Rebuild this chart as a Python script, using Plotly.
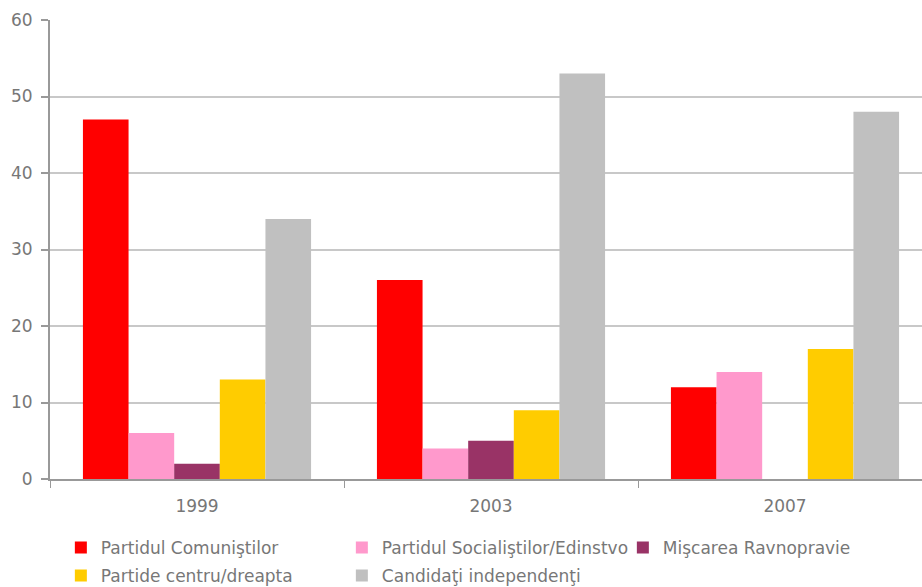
import plotly.graph_objects as go

years = ["1999", "2003", "2007"]
series_names = [
    "Partidul Comuniştilor",
    "Partidul Socialiştilor/Edinstvo",
    "Mişcarea Ravnopravie",
    "Partide centru/dreapta",
    "Candidaţi independenţi",
]
pc = [47, 26, 12]
ps = [6, 4, 14]
mr = [2, 5, 0]
pcd = [13, 9, 17]
ci = [34, 53, 48]
values = [pc, ps, mr, pcd, ci]
colors = ["#FF0000", "#FF99CC", "#993366", "#FFCC00", "#C0C0C0"]
legend_rows = ["legend", "legend", "legend", "legend2", "legend2"]

fig = go.Figure()
for name, vals, col, lg in zip(series_names, values, colors, legend_rows):
    fig.add_trace(go.Bar(
        x=years, y=vals, name=name, legend=lg,
        marker=dict(color=col, line=dict(width=0)),
    ))

font_col = "#777777"
legend_common = dict(
    orientation="h",
    xref="container", yref="container",
    xanchor="left", yanchor="middle",
    entrywidth=236, entrywidthmode="pixels",
    font=dict(size=17, color=font_col),
    traceorder="normal",
    itemwidth=30,
    bgcolor="rgba(0,0,0,0)",
)
fig.update_layout(
    width=922, height=587,
    margin=dict(l=50, r=0, t=20, b=108),
    plot_bgcolor="white", paper_bgcolor="white",
    barmode="group", bargap=0.224, bargroupgap=0,
    font=dict(family="DejaVu Sans", size=17, color=font_col),
    xaxis=dict(
        type="category", range=[-0.5, 2.466],
        showline=True, linecolor="#999999", linewidth=2,
        ticks="outside", tickson="boundaries", ticklen=7, tickcolor="#999999",
        tickwidth=1, ticklabelstandoff=11,
        tickfont=dict(size=17, color=font_col),
        showgrid=False,
    ),
    yaxis=dict(
        range=[0, 60], dtick=10,
        showline=True, linecolor="#999999", linewidth=2,
        ticks="outside", ticklen=7, tickcolor="#999999", tickwidth=2,
        ticklabelstandoff=5,
        gridcolor="#C8C8C8", gridwidth=2,
        zeroline=False,
        tickfont=dict(size=17, color=font_col),
    ),
    legend=dict(legend_common, x=0.066, y=1 - 548 / 587),
    legend2=dict(legend_common, x=0.066, y=1 - 576 / 587),
)

fig.write_html("out.html")
